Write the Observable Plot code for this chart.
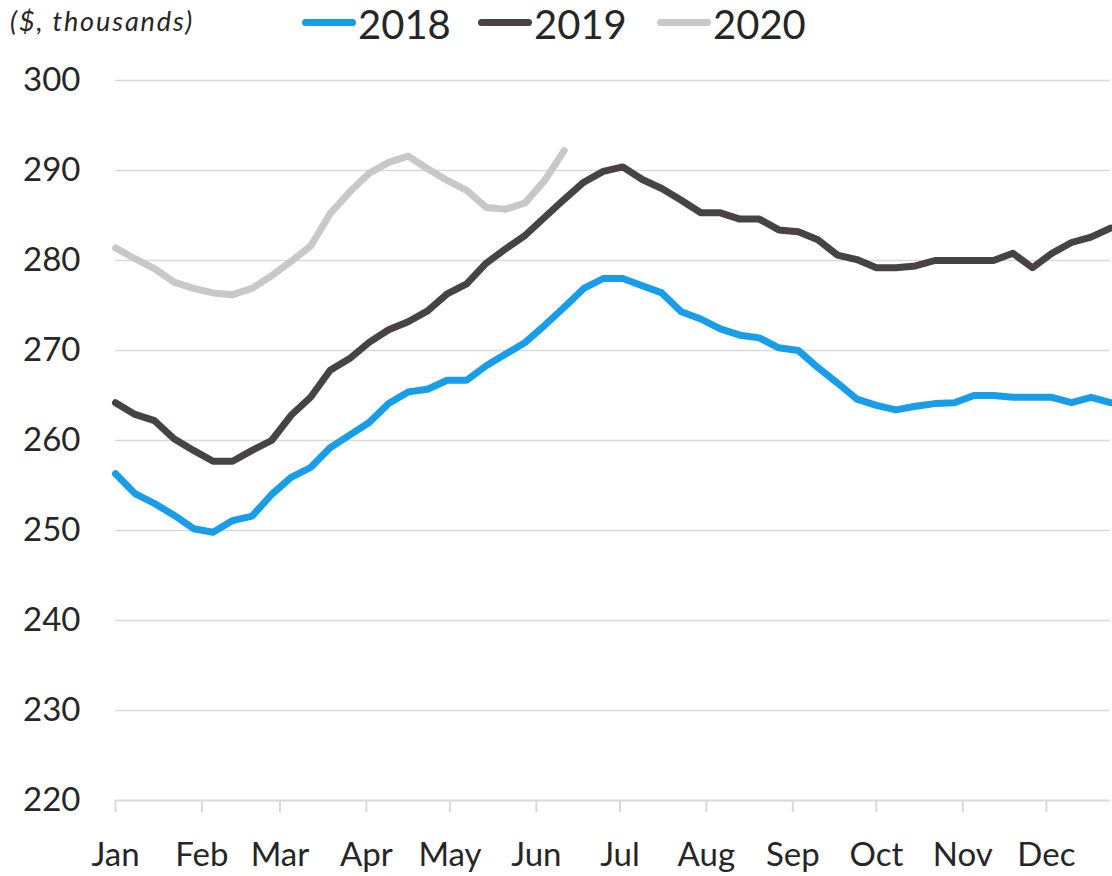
<!DOCTYPE html>
<html><head><meta charset="utf-8">
<script src="https://cdn.jsdelivr.net/npm/d3@7"></script>
<script src="https://cdn.jsdelivr.net/npm/@observablehq/plot@0.6"></script>
<style>
body{margin:0;background:#fff;font-family:Lato,"Open Sans",sans-serif;color:#262626;}
#wrap{position:relative;width:1112px;height:876px;overflow:hidden;}
#head{position:relative;height:46px;}
.sub{position:absolute;left:10px;top:7px;font-size:27px;line-height:1;letter-spacing:1.9px;font-style:italic;white-space:nowrap;}
.sw{position:absolute;height:7px;width:54px;border-radius:4px;top:19px;}
.lt{position:absolute;top:4px;font-size:40px;line-height:1;white-space:nowrap;}
</style></head>
<body><div id="wrap"><div id="head"></div><div id="chart"></div></div>
<script>
const seriesNames = ["2018", "2019", "2020"];
const seriesColors = ["#189ee9", "#474344", "#c8c8c8"];
const values2018 = [256.3,254.1,253.0,251.7,250.2,249.8,251.1,251.6,254.0,255.9,257.0,259.2,260.6,262.0,264.1,265.4,265.7,266.7,266.7,268.3,269.6,270.9,272.8,274.8,276.9,278.0,278.0,277.2,276.4,274.3,273.5,272.4,271.7,271.4,270.3,270.0,268.1,266.4,264.6,263.9,263.4,263.8,264.1,264.2,265.0,265.0,264.8,264.8,264.8,264.2,264.8,264.2];
const values2019 = [264.2,262.9,262.2,260.2,258.9,257.7,257.7,258.9,260.0,262.8,264.8,267.8,269.1,270.9,272.3,273.2,274.4,276.3,277.4,279.7,281.3,282.8,284.8,286.8,288.7,289.9,290.4,289.0,288.0,286.7,285.3,285.3,284.6,284.6,283.4,283.2,282.3,280.6,280.1,279.2,279.2,279.4,280.0,280.0,280.0,280.0,280.8,279.2,280.8,282.0,282.6,283.6];
const values2020 = [281.4,280.2,279.1,277.6,276.9,276.4,276.2,276.9,278.3,279.9,281.6,285.2,287.6,289.7,290.9,291.6,290.2,288.9,287.8,285.9,285.7,286.4,288.9,292.2];
const monthLabels = ["Jan","Feb","Mar","Apr","May","Jun","Jul","Aug","Sep","Oct","Nov","Dec"];
const monthStartDays = [0,31,59,90,120,151,181,212,243,273,304,334];
const yTicks = [220,230,240,250,260,270,280,290,300];
const subtitle = "($, thousands)";

const seriesValues = [values2018, values2019, values2020];
const data = [];
seriesValues.forEach((vals, s) => vals.forEach((v, i) => data.push({series: seriesNames[s], day: i * 7, value: v})));

// header: subtitle + legend
const head = document.getElementById("head");
const sub = document.createElement("div"); sub.className = "sub"; sub.textContent = subtitle; head.appendChild(sub);
const legendX = [302, 478, 657];
seriesNames.forEach((n, k) => {
  const sw = document.createElement("div"); sw.className = "sw";
  sw.style.left = legendX[k] + "px"; sw.style.background = seriesColors[k]; head.appendChild(sw);
  const t = document.createElement("div"); t.className = "lt";
  t.style.left = (legendX[k] + 56) + "px"; t.textContent = n; head.appendChild(t);
});

const chart = Plot.plot({
  width: 1112,
  height: 830,
  marginTop: 34,
  marginBottom: 76,
  marginLeft: 115,
  marginRight: 2,
  style: {fontFamily: "Lato, 'Open Sans', sans-serif", fontSize: "33px", color: "#262626", background: "#fff"},
  x: {domain: [0, 357]},
  y: {domain: [220, 300]},
  color: {domain: seriesNames, range: seriesColors},
  marks: [
    Plot.ruleY(yTicks.slice(1), {stroke: "#d9d9d9", strokeWidth: 1.5}),
    Plot.ruleY([220], {stroke: "#d9d9d9", strokeWidth: 2}),
    Plot.axisY({ticks: yTicks, tickSize: 0, tickPadding: 35, label: null, tickFormat: d => String(d)}),
    Plot.axisX({ticks: monthStartDays, tickSize: 12, tickPadding: 30, stroke: "#d9d9d9", strokeWidth: 2, strokeOpacity: 1, label: null,
      tickFormat: d => monthLabels[monthStartDays.indexOf(d)]}),
    Plot.line(data, {x: "day", y: "value", z: "series", stroke: "series", strokeWidth: 7, strokeLinecap: "round", strokeLinejoin: "round"})
  ]
});
document.getElementById("chart").appendChild(chart);
</script>
</body></html>
